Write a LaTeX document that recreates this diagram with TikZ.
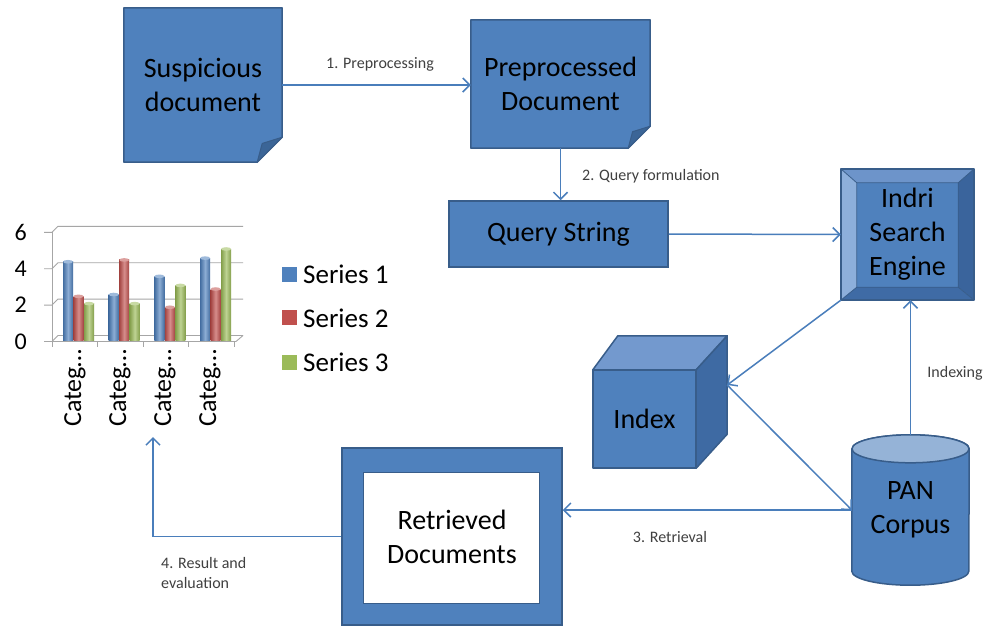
\documentclass[tikz,border=0pt]{standalone}
\usepackage{fontspec}
\setmainfont{Carlito}
\usetikzlibrary{arrows.meta,backgrounds,calc}

\definecolor{boxblue}{HTML}{4F81BD}
\definecolor{boxedge}{HTML}{385D8A}
\definecolor{folddark}{HTML}{3B6597}
\definecolor{linkblue}{HTML}{4A7EBB}
\definecolor{labelgray}{HTML}{404040}
\definecolor{bevlight}{HTML}{8DAFDB}
\definecolor{bevtop}{HTML}{6D94CA}
\definecolor{bevdark}{HTML}{3A649C}
\definecolor{bevbottom}{HTML}{3F6BA5}
\definecolor{cubetop}{HTML}{7399CE}
\definecolor{cubeside}{HTML}{3E6AA3}
\definecolor{cyltop}{HTML}{95B3D7}
\definecolor{gridgray}{HTML}{A6A6A6}
\definecolor{serA}{HTML}{4F81BD}
\definecolor{serB}{HTML}{C0504D}
\definecolor{serC}{HTML}{9BBB59}

\tikzset{
  bigtext/.style={font=\fontsize{28}{34}\selectfont, align=center, text=black},
  plainbox/.style={bigtext, inner sep=0pt},
  filledbox/.style={plainbox, fill=boxblue, draw=boxedge, line width=1.5pt},
  shapeline/.style={draw=boxedge, line width=1.5pt, line join=round},
  link/.style={draw=linkblue, line width=1.5pt, -{Straight Barb[length=7pt,width=14pt]}},
  steplabel/.style={font=\fontsize{16}{20}\selectfont, text=labelgray, inner sep=0pt},
  gridline/.style={draw=gridgray, line width=0.9pt},
  axisnum/.style={font=\fontsize{24}{28}\selectfont, inner sep=0pt},
  catlabel/.style={font=\fontsize{26}{28}\selectfont, inner sep=0pt},
  legendtext/.style={font=\fontsize{27}{30}\selectfont, inner sep=0pt},
}

% note shape with a folded lower right corner, drawn behind node #1; #2 = fold size
\newcommand\foldeddoc[2]{%
  \begin{scope}[on background layer]
    \filldraw[fill=boxblue, shapeline]
      (#1.north west) -- (#1.north east) -- ([yshift=#2]#1.south east)
      -- ([xshift=-#2]#1.south east) -- (#1.south west) -- cycle;
    \filldraw[fill=folddark, draw=boxedge, line width=1pt, line join=round]
      ([xshift=-#2]#1.south east) -- ([shift={(-0.8*#2,0.75*#2)}]#1.south east)
      -- ([yshift=#2]#1.south east) -- cycle;
  \end{scope}}

% one cylindrical bar of the chart: left x, value, colour
\newcommand\chartbar[3]{%
  \pgfmathsetmacro\bartop{340-18.2*#2}%
  \shade[left color=#3!85!black, right color=#3!85!black, middle color=#3!65!white]
    (#1,340) rectangle ({#1+10},\bartop);
  \fill[#3!55!white] ({#1+5},\bartop) ellipse[x radius=5pt, y radius=1.8pt];
}

\begin{document}
\begin{tikzpicture}[x=1pt,y=-1pt]
\useasboundingbox (0,0) rectangle (990,625);
\begin{scope}[on background layer]
  \fill[white] (0,0) rectangle (990,625);
\end{scope}

% ---------- process boxes ----------
\node[plainbox, minimum width=158pt, minimum height=154pt] (susp) at (203,85) {Suspicious\\document};
\foldeddoc{susp}{25pt}

\node[plainbox, minimum width=179pt, minimum height=128pt] (prep) at (560.5,84) {Preprocessed\\Document};
\foldeddoc{prep}{22pt}

\node[filledbox, minimum width=219pt, minimum height=66pt] (qs) at (558.5,234) {Query String};

% bevelled search engine box
\node[plainbox, minimum width=133pt, minimum height=131pt] (ind) at (907.5,234.5) {Indri\\Search\\Engine};
\begin{scope}[on background layer]
  \coordinate (inw) at ([shift={(16pt,-14pt)}]ind.north west);
  \coordinate (ine) at ([shift={(-16pt,-14pt)}]ind.north east);
  \coordinate (ise) at ([shift={(-16pt,13pt)}]ind.south east);
  \coordinate (isw) at ([shift={(16pt,13pt)}]ind.south west);
  \fill[boxblue] (inw) -- (ine) -- (ise) -- (isw) -- cycle;
  \fill[bevtop] (ind.north west) -- (ind.north east) -- (ine) -- (inw) -- cycle;
  \fill[bevlight] (ind.north west) -- (inw) -- (isw) -- (ind.south west) -- cycle;
  \fill[bevdark] (ind.north east) -- (ind.south east) -- (ise) -- (ine) -- cycle;
  \fill[bevbottom] (ind.south west) -- (isw) -- (ise) -- (ind.south east) -- cycle;
  \draw[boxedge, line width=0.8pt, line join=round]
    (ind.north west) -- (inw) (ind.north east) -- (ine)
    (ind.south east) -- (ise) (ind.south west) -- (isw)
    (inw) -- (ine) -- (ise) -- (isw) -- cycle;
  \draw[shapeline] (ind.north west) rectangle (ind.south east);
\end{scope}

% index cube
\node[plainbox, minimum width=103pt, minimum height=98pt] (idx) at (644.5,419) {Index};
\begin{scope}[on background layer]
  \filldraw[fill=boxblue, shapeline] (idx.north west) rectangle (idx.south east);
  \filldraw[fill=cubetop, shapeline]
    (idx.north west) -- ([shift={(25pt,34pt)}]idx.north west)
    -- ([shift={(31pt,34pt)}]idx.north east) -- (idx.north east) -- cycle;
  \filldraw[fill=cubeside, shapeline]
    (idx.north east) -- ([shift={(31pt,34pt)}]idx.north east)
    -- ([shift={(31pt,34pt)}]idx.south east) -- (idx.south east) -- cycle;
\end{scope}
\coordinate (idxback) at ([shift={(31pt,34pt)}]idx.east);

% corpus cylinder
\node[plainbox, minimum width=117pt, minimum height=150pt] (pan) at (910.5,510) {PAN\\Corpus};
\begin{scope}[on background layer]
  \filldraw[fill=boxblue, shapeline]
    ([yshift=-14pt]pan.north west) -- ([yshift=14pt]pan.south west)
    arc[start angle=180, end angle=360, x radius=58.5pt, y radius=14pt]
    -- ([yshift=-14pt]pan.north east)
    arc[start angle=0, end angle=180, x radius=58.5pt, y radius=14pt] -- cycle;
  \filldraw[fill=cyltop, shapeline] ([yshift=-14pt]pan.north) ellipse[x radius=58.5pt, y radius=14pt];
\end{scope}

% framed result box
\node[filledbox, minimum width=220pt, minimum height=177pt,
  path picture={\filldraw[fill=white, draw=boxedge, line width=0.8pt]
    ([shift={(21pt,-24pt)}]path picture bounding box.north west)
    rectangle ([shift={(-23pt,22pt)}]path picture bounding box.south east);}]
  (ret) at (452,536.5) {Retrieved\\Documents};

% ---------- connectors ----------
\draw[link] (susp.east) -- (susp.east -| prep.west);
\node[steplabel] (lpre) at (380,64) {1. Preprocessing};

\draw[link] (prep.south) -- (prep.south |- qs.north);
\node[steplabel, anchor=west] (lquery) at (582,176) {2. Query formulation};

\draw[link] (qs.east) -- (ind.west);
\draw[link] (ind.south west) -- (idxback);
\draw[link] (idxback) -- (pan.west);
\draw[link] (pan.north) -- (pan.north |- ind.south);
\node[steplabel] (lindex) at (955,373) {Indexing};

\draw[link] (pan.west) -- (pan.west -| ret.east);
\node[steplabel] (lretr) at (670,537) {3. Retrieval};

\coordinate (chartfoot) at (153,437);
\draw[link] (ret.west) -| (chartfoot);
\node[steplabel, anchor=north west, align=left] (lresult) at (161,557) {4. Result and\\evaluation};

% ---------- chart ----------
\foreach \v in {0,2,4,6}{
  \pgfmathsetmacro\yf{341.5-18.2*\v}
  \pgfmathsetmacro\yb{\yf-6}
  \draw[gridline] (44,\yf) -- (52,\yf) -- (58,\yb) -- (243,\yb);
  \node[axisnum, anchor=east] (num\v) at (27,\yf) {\v};
}
\draw[gridline] (52,341.5) -- (52,232.3);
\draw[gridline] (52,341.5) -- (236,341.5) -- (243,335.5);
\foreach \x in {52,97,143,188,234}{
  \draw[gridline] (\x,341.5) -- (\x,347);
}
\foreach \i/\a/\b/\c in {0/4.3/2.4/2, 1/2.5/4.4/2, 2/3.5/1.8/3, 3/4.5/2.8/5}{
  \pgfmathsetmacro\bx{63+45.7*\i}
  \chartbar{\bx}{\a}{serA}
  \chartbar{\bx+10.5}{\b}{serB}
  \chartbar{\bx+21}{\c}{serC}
  \node[catlabel, rotate=90, anchor=east] (cat\i) at ({75+45*\i},349) {Categ…};
}

% legend
\fill[serA] (282,267) rectangle (297,282);
\node[legendtext, anchor=west] (leg1) at (303,274) {Series 1};
\fill[serB] (282,310) rectangle (297,325);
\node[legendtext, anchor=west] (leg2) at (303,318) {Series 2};
\fill[serC] (282,355) rectangle (297,370);
\node[legendtext, anchor=west] (leg3) at (303,362) {Series 3};
\end{tikzpicture}
\end{document}
